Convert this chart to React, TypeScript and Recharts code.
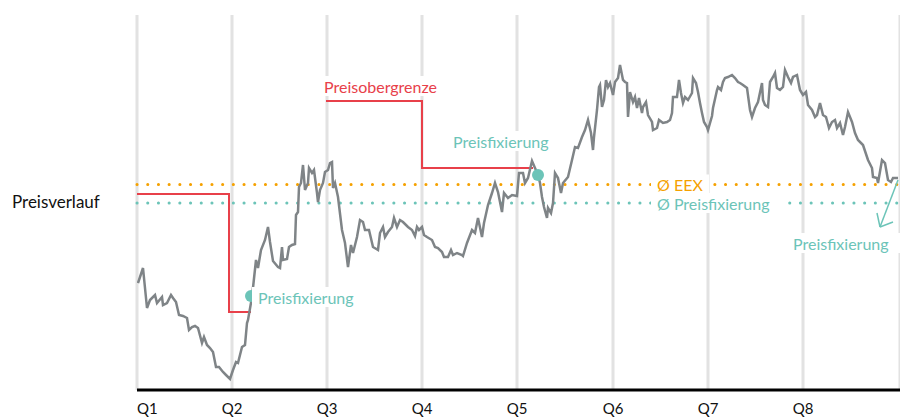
import { LineChart, Line, XAxis, YAxis, CartesianGrid, ReferenceLine, ReferenceDot } from 'recharts'

// days since start of Q1 (one quarter ~ 95 days on this axis) and price in EUR/MWh
const days = [
  1, 6, 10, 13, 18, 20, 25, 26, 30, 34, 36, 39, 42, 46, 50, 52, 55, 58, 61, 65, 67, 70, 73, 76, 79, 82, 86, 89, 93,
  96, 99, 101, 105, 108, 110, 111, 115, 119, 121, 124, 128, 131, 133, 136, 141, 143, 145, 146, 150, 152, 155, 158,
  159, 161, 162, 164, 166, 168, 171, 172, 175, 177, 180, 181, 183, 186, 188, 191, 193, 195, 196, 198, 201, 205, 208,
  211, 214, 216, 220, 223, 226, 228, 232, 236, 241, 243, 246, 248, 251, 255, 257, 260, 263, 266, 271, 275, 278, 280,
  282, 285, 287, 290, 295, 298, 301, 305, 307, 311, 314, 316, 320, 325, 326, 330, 335, 338, 341, 345, 347, 351, 355,
  358, 361, 365, 367, 371, 375, 380, 382, 386, 388, 391, 395, 398, 401, 403, 405, 407, 410, 411, 414, 416, 418, 421,
  424, 426, 431, 435, 438, 441, 445, 448, 451, 454, 456, 457, 460, 462, 463, 465, 467, 469, 471, 473, 476, 478, 481,
  483, 486, 488, 490, 491, 493, 496, 498, 500, 502, 505, 506, 509, 511, 515, 516, 520, 522, 526, 530, 533, 535, 536,
  540, 542, 544, 546, 548, 551, 555, 556, 559, 561, 563, 565, 567, 570, 571, 575, 576, 580, 581, 584, 586, 588, 591,
  595, 598, 601, 603, 606, 610, 613, 615, 618, 621, 625, 626, 628, 631, 633, 636, 638, 640, 643, 646, 648, 651, 654,
  656, 660, 663, 666, 669, 671, 675, 678, 680, 683, 686, 689, 692, 695, 698, 700, 703, 706, 708, 711, 715, 718, 721,
  726, 731, 735, 736, 740, 741, 745, 748, 751, 754, 756, 761,
]
const prices = [
  107, 122, 82, 90, 95, 87, 93, 85, 87, 95, 92, 88, 75, 74, 72, 60, 63, 64, 62, 47, 53, 45, 42, 38, 23, 23, 18, 15, 11,
  20, 28, 27, 43, 45, 67, 70, 93, 130, 122, 140, 150, 163, 148, 129, 123, 122, 143, 130, 131, 143, 145, 146,
  175, 178, 203, 207, 225, 200, 207, 222, 217, 220, 197, 188, 200, 207, 218, 220, 227, 228, 202, 207, 193, 160, 147,
  123, 145, 137, 153, 170, 168, 160, 160, 143, 140, 157, 163, 153, 158, 163, 172, 163, 170, 168, 163, 160, 154, 163,
  160, 163, 155, 153, 150, 143, 142, 138, 133, 133, 140, 135, 137, 135, 134, 147, 160, 157, 172, 153, 167, 185, 197,
  207, 198, 178, 197, 192, 195, 194, 217, 217, 207, 212, 229, 222, 215, 207, 193, 183, 172, 182, 177, 187, 217, 212,
  197, 207, 213, 230, 243, 242, 253, 260, 270, 257, 240, 253, 280, 303, 305, 283, 290, 310, 303, 307, 295, 308, 312,
  325, 310, 308, 307, 273, 298, 288, 293, 282, 292, 277, 283, 288, 275, 268, 260, 262, 270, 267, 268, 270, 277, 293,
  293, 310, 297, 287, 293, 290, 297, 312, 307, 298, 287, 277, 268, 263, 260, 274, 282, 300, 303, 300, 308, 312, 313,
  315, 312, 308, 307, 305, 302, 280, 273, 282, 288, 307, 290, 285, 283, 308, 313, 317, 302, 300, 303, 320, 313, 307,
  313, 315, 300, 295, 298, 285, 280, 273, 275, 287, 275, 273, 262, 268, 270, 262, 267, 255, 263, 278, 268, 257, 250,
  245, 230, 222, 213, 212, 207, 230, 227, 210, 208, 212, 212,
]

const quarterDays = [0, 95, 190, 285, 380, 476, 571, 666]
const quarterLabels = ['Q1', 'Q2', 'Q3', 'Q4', 'Q5', 'Q6', 'Q7', 'Q8']

// price cap (Preisobergrenze), step line, null = gap
const capDays = [0, 92, 114, 150, 189, 285, 396]
const capValues = [196, 78, 78, null, 289, 222, 222]

const fixDays = [114, 401]
const fixPrices = [94, 215]

const avgEEX = 205.5
const avgFix = 187

// arrow pointing to the last fixing
const arrowDays = [761, 743, 740, 756]
const arrowPrices = [210, 163, 177, 168]

const GREY = '#7f8487'
const TEAL = '#6cc4b8'
const ORANGE = '#f5a100'
const RED = '#e8404a'
const FONT = 'Lato, sans-serif'

const priceData = days.map((d, i) => ({ day: d, price: prices[i] }))
const capData = capDays.map((d, i) => ({ day: d, cap: capValues[i] }))

function boxLabel(text: string, color: string, w: number) {
  return (props: any) => {
    const { x, y } = props.viewBox
    return (
      <g>
        <rect x={x - 6} y={y - 10} width={w + 12} height={20} fill="#fff" />
        <text x={x} y={y} dominantBaseline="central" fill={color} fontSize={16} fontFamily={FONT}>
          {text}
        </text>
      </g>
    )
  }
}

function QTick(props: any) {
  const { x, y, payload, index } = props
  return (
    <text x={x} y={y + 22} textAnchor={index === 0 ? 'start' : 'middle'} fill="#111" fontSize={15} fontFamily={FONT}>
      {quarterLabels[index] ?? payload.value}
    </text>
  )
}

export default function App() {
  return (
    <div style={{ position: 'absolute', left: 0, top: 0, width: 900, height: 417, background: '#fff' }}>
      <div
        style={{
          position: 'absolute',
          left: 12,
          top: 191,
          fontFamily: FONT,
          fontSize: 17,
          color: '#111',
        }}
      >
        Preisverlauf
      </div>
      <LineChart width={900} height={417} margin={{ top: 15, right: 0, left: 137, bottom: 0 }}>
        <CartesianGrid horizontal={false} stroke="#e2e2e2" strokeWidth={3} />
        <XAxis
          dataKey="day"
          type="number"
          domain={[0, 763]}
          ticks={quarterDays}
          height={27}
          tickLine={false}
          tickSize={0}
          tick={<QTick />}
          axisLine={{ stroke: '#000', strokeWidth: 3 }}
          allowDataOverflow
        />
        <YAxis
          type="number"
          domain={[0, 375]}
          width={0}
          tick={false}
          tickLine={false}
          axisLine={{ stroke: '#000', strokeWidth: 3 }}
        />
        <ReferenceLine y={avgEEX} stroke={ORANGE} strokeWidth={3} strokeDasharray="0.1 10.6" strokeLinecap="round" />
        <ReferenceLine y={avgFix} stroke={TEAL} strokeWidth={3} strokeDasharray="0.1 10.6" strokeLinecap="round" />
        <Line
          data={capData}
          dataKey="cap"
          type="stepAfter"
          stroke={RED}
          strokeWidth={2}
          dot={false}
          connectNulls={false}
          isAnimationActive={false}
        />
        <Line
          data={priceData}
          dataKey="price"
          type="linear"
          stroke={GREY}
          strokeWidth={2.5}
          dot={false}
          isAnimationActive={false}
        />
        {fixDays.map((d, i) => (
          <ReferenceDot key={'fix' + i} x={d} y={fixPrices[i]} r={6} fill={TEAL} stroke="none" />
        ))}
        <ReferenceLine
          segment={[{ x: arrowDays[0], y: arrowPrices[0] }, { x: arrowDays[1], y: arrowPrices[1] }]}
          stroke={TEAL}
          strokeWidth={1.5}
        />
        <ReferenceLine
          segment={[{ x: arrowDays[2], y: arrowPrices[2] }, { x: arrowDays[1], y: arrowPrices[1] }]}
          stroke={TEAL}
          strokeWidth={1.5}
        />
        <ReferenceLine
          segment={[{ x: arrowDays[1], y: arrowPrices[1] }, { x: arrowDays[3], y: arrowPrices[3] }]}
          stroke={TEAL}
          strokeWidth={1.5}
        />
        <ReferenceDot x={187} y={304} r={0} label={boxLabel('Preisobergrenze', RED, 122)} />
        <ReferenceDot x={316} y={249} r={0} label={boxLabel('Preisfixierung', TEAL, 102)} />
        <ReferenceDot x={121} y={93} r={0} label={boxLabel('Preisfixierung', TEAL, 102)} />
        <ReferenceDot x={520} y={avgEEX} r={0} label={boxLabel('Ø EEX', ORANGE, 46)} />
        <ReferenceDot x={520} y={avgFix} r={0} label={boxLabel('Ø Preisfixierung', TEAL, 120)} />
        <ReferenceDot x={656} y={147} r={0} label={boxLabel('Preisfixierung', TEAL, 102)} />
      </LineChart>
    </div>
  )
}
